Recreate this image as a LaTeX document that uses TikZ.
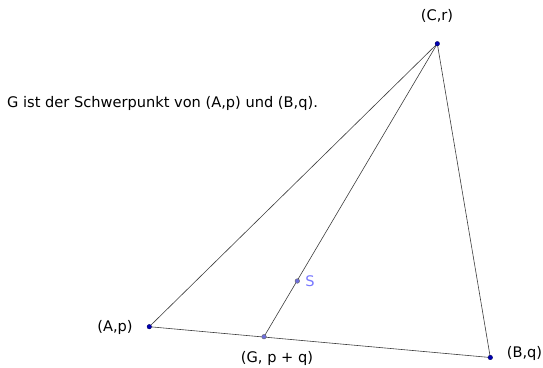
\documentclass[tikz,border=0pt]{standalone}
\usepackage{fontspec}
\setmainfont{DejaVu Sans}
\definecolor{ptblue}{RGB}{0,0,180}
\definecolor{ptlight}{RGB}{110,110,220}
\definecolor{slabel}{RGB}{120,120,255}
\definecolor{edge}{RGB}{60,60,60}
\begin{document}
\begin{tikzpicture}[x=1pt,y=-1pt,
  seg/.style={draw=edge,line width=0.6pt},
  freept/.style={circle,fill=ptblue,draw=black!70!blue,line width=0.3pt,inner sep=0pt,minimum size=4.6pt},
  deppt/.style={circle,fill=ptlight,draw=black!60,line width=0.4pt,inner sep=0pt,minimum size=4.6pt},
  lbl/.style={font=\fontsize{14.6}{16}\selectfont,inner sep=0pt}]
\useasboundingbox (0,0) rectangle (543,367);
\coordinate (A) at (149.3,326.7);
\coordinate (B) at (490.3,357.5);
\coordinate (C) at (437.3,43.7);
\coordinate (G) at (264,336.7);
\coordinate (S) at (297.3,281);
\draw[seg] (A) -- (B) -- (C) -- cycle;
\draw[seg] (G) -- (C);
\node[freept] (pA) at (A) {};
\node[freept] (pB) at (B) {};
\node[freept] (pC) at (C) {};
\node[deppt] (pG) at (G) {};
\node[deppt] (pS) at (S) {};
\node[lbl] (tA) at (115,327) {(A,p)};
\node[lbl] (tB) at (524.5,353) {(B,q)};
\node[lbl] (tC) at (437,16) {(C,r)};
\node[lbl] (tG) at (277,358) {(G, p + q)};
\node[lbl,text=slabel] (tS) at (310,281) {S};
\node[lbl,anchor=west] (title) at (7,103) {G ist der Schwerpunkt von (A,p) und (B,q).};
\end{tikzpicture}
\end{document}
